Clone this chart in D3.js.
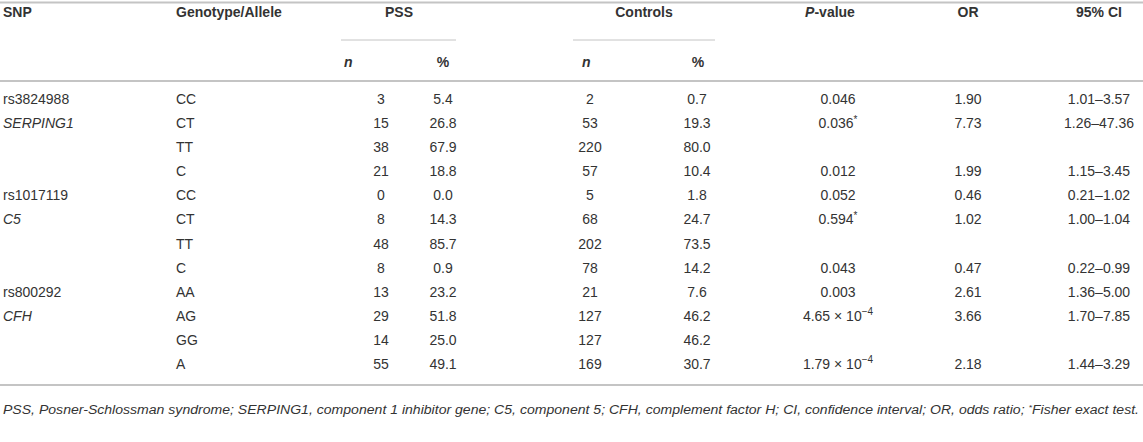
<!DOCTYPE html>
<html>
<head>
<meta charset="utf-8">
<script src="https://cdn.jsdelivr.net/npm/d3@7"></script>
<style>
  html, body { margin: 0; padding: 0; background: #fff; }
  svg text { font-family: "Liberation Sans", Arial, sans-serif; fill: #333; }
</style>
</head>
<body>
<div id="table"></div>
<script>
/**** TABLE DATA *****/
const snp      = ['rs3824988', 'SERPING1', '', '', 'rs1017119', 'C5', '', '', 'rs800292', 'CFH', '', ''];
const geneRows = ['SERPING1', 'C5', 'CFH']; // gene names are set in italics
const genotype = ['CC', 'CT', 'TT', 'C', 'CC', 'CT', 'TT', 'C', 'AA', 'AG', 'GG', 'A'];
const pssN     = [3, 15, 38, 21, 0, 8, 48, 8, 13, 29, 14, 55];
const pssPct   = ['5.4', '26.8', '67.9', '18.8', '0.0', '14.3', '85.7', '0.9', '23.2', '51.8', '25.0', '49.1'];
const ctrlN    = [2, 53, 220, 57, 5, 68, 202, 78, 21, 127, 127, 169];
const ctrlPct  = ['0.7', '19.3', '80.0', '10.4', '1.8', '24.7', '73.5', '14.2', '7.6', '46.2', '46.2', '30.7'];
const pValue   = ['0.046', '0.036*', '', '0.012', '0.052', '0.594*', '', '0.043', '0.003', '4.65 × 10^−4', '', '1.79 × 10^−4'];
const oddsRatio = ['1.90', '7.73', '', '1.99', '0.46', '1.02', '', '0.47', '2.61', '3.66', '', '2.18'];
const ci95     = ['1.01–3.57', '1.26–47.36', '', '1.15–3.45', '0.21–1.02', '1.00–1.04', '', '0.22–0.99', '1.36–5.00', '1.70–7.85', '', '1.44–3.29'];

const footnote = [
	['PSS', ', Posner-Schlossman syndrome; '], ['SERPING1', ', component 1 inhibitor gene; '],
	['C5', ', component 5; '], ['CFH', ', complement factor H; '], ['CI', ', confidence interval; '],
	['OR', ', odds ratio; '], ['*', 'Fisher exact test.']
];

/**** LAYOUT *****/
const width = 1143, height = 442;
const lineColor = '#c4c4c4';
const fontSize = 14;

const svg = d3.select('#table').append('svg')
	.attr('width', width).attr('height', height);

const rows = d3.range(genotype.length);
const y = d3.scaleBand().domain(rows).range([87, 376]);
const rowY = i => y(i) + y.bandwidth() / 2 + 5;

// column centres (left edges for the two text columns)
const columns = [
	{ key: 'snp', x: 3,    anchor: 'start',  values: snp },
	{ key: 'gt',  x: 176,  anchor: 'start',  values: genotype },
	{ key: 'pn',  x: 381,  anchor: 'middle', values: pssN },
	{ key: 'pp',  x: 443,  anchor: 'middle', values: pssPct },
	{ key: 'cn',  x: 590,  anchor: 'middle', values: ctrlN },
	{ key: 'cp',  x: 697,  anchor: 'middle', values: ctrlPct },
	{ key: 'pv',  x: 838,  anchor: 'middle', values: pValue },
	{ key: 'or',  x: 968,  anchor: 'middle', values: oddsRatio },
	{ key: 'ci',  x: 1099, anchor: 'middle', values: ci95 }
];

/**** RULES *****/
const rule = (x1, x2, yy, w) => svg.append('line')
	.attr('x1', x1).attr('x2', x2).attr('y1', yy).attr('y2', yy)
	.attr('stroke', lineColor).attr('stroke-width', w);
rule(0, width, 2.5, 2);
rule(0, width, 81, 2);
rule(0, width, 385, 2);
rule(341, 456, 40, 1);   // PSS
rule(573, 715, 40, 1);   // Controls

/**** HEADER *****/
const head = svg.append('g').attr('font-size', fontSize).attr('font-weight', 'bold');
head.append('text').attr('x', 3).attr('y', 17).text('SNP');
head.append('text').attr('x', 176).attr('y', 17).text('Genotype/Allele');
head.append('text').attr('x', 399).attr('y', 17).attr('text-anchor', 'middle').text('PSS');
head.append('text').attr('x', 644).attr('y', 17).attr('text-anchor', 'middle').text('Controls');
const pHead = head.append('text').attr('x', 830).attr('y', 17).attr('text-anchor', 'middle');
pHead.append('tspan').attr('font-style', 'italic').text('P');
pHead.append('tspan').text('-value');
head.append('text').attr('x', 968).attr('y', 17).attr('text-anchor', 'middle').text('OR');
head.append('text').attr('x', 1099).attr('y', 17).attr('text-anchor', 'middle').text('95% CI');

head.append('text').attr('x', 344).attr('y', 67).attr('font-style', 'italic').text('n');
head.append('text').attr('x', 443).attr('y', 67).attr('text-anchor', 'middle').text('%');
head.append('text').attr('x', 582).attr('y', 67).attr('font-style', 'italic').text('n');
head.append('text').attr('x', 698).attr('y', 67).attr('text-anchor', 'middle').text('%');

/**** BODY *****/
const body = svg.append('g').attr('font-size', fontSize);
columns.forEach(col => {
	const cells = body.append('g').attr('class', 'col-' + col.key)
		.selectAll('text').data(rows).join('text')
		.attr('x', col.x).attr('y', d => rowY(d))
		.attr('text-anchor', col.anchor)
		.attr('font-style', d => col.key === 'snp' && geneRows.includes(col.values[d]) ? 'italic' : null);

	cells.each(function(d) {
		const v = String(col.values[d]);
		const t = d3.select(this);
		if (v.includes('^')) {
			const [base, exp] = v.split('^');
			t.append('tspan').text(base);
			t.append('tspan').attr('dy', -6).attr('font-size', 10).text(exp);
		} else if (v.endsWith('*')) {
			t.append('tspan').text(v.slice(0, -1));
			t.append('tspan').attr('dy', -5).attr('font-size', 10).text('*');
		} else {
			t.text(v);
		}
	});
});

/**** FOOTNOTE *****/
const note = svg.append('text').attr('x', 3).attr('y', 414)
	.attr('font-size', 12.5).attr('font-style', 'italic')
	.attr('textLength', 1136).attr('lengthAdjust', 'spacingAndGlyphs');
footnote.forEach(([abbr, desc]) => {
	if (abbr === '*') {
		note.append('tspan').attr('dy', -4).attr('font-size', 8).text('*');
		note.append('tspan').attr('dy', 4).text(desc);
	} else {
		note.append('tspan').text(abbr);
		note.append('tspan').text(desc);
	}
});
</script>
</body>
</html>
